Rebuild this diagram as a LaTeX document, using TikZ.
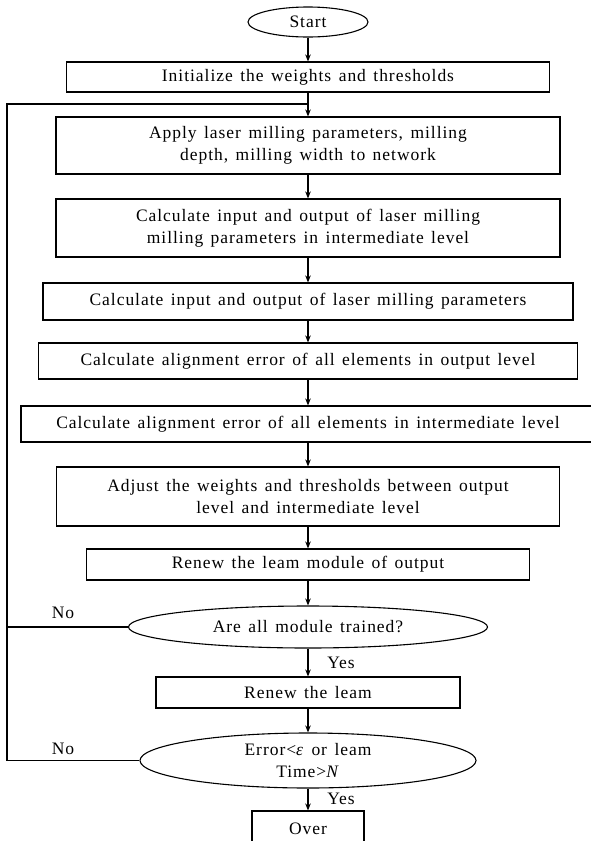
\documentclass[tikz,border=0pt]{standalone}
\usepackage{fontspec}
\setmainfont{Liberation Serif}[LetterSpace=5.5,WordSpace=1.4]
\usetikzlibrary{shapes.geometric,arrows.meta}

\begin{document}
\begin{tikzpicture}[x=1pt,y=-1pt,line width=1.1pt,
        box/.style={draw,rectangle,align=center,inner sep=0pt,font=\fontsize{17.5}{22}\selectfont},
        oval/.style={draw,ellipse,align=center,inner sep=0pt,font=\fontsize{17.5}{22}\selectfont},
        flow/.style={-{Stealth[length=7pt,width=5.5pt]}},
        lbl/.style={font=\fontsize{17.5}{22}\selectfont}]
    \useasboundingbox (0,0) rectangle (591,841);

    \node[oval,minimum width=120pt,minimum height=30pt] (start) at (308,22) {Start};
    \node[box,minimum width=483pt,minimum height=30pt] (init) at (308,77) {Initialize the weights and thresholds};
    \node[box,minimum width=504pt,minimum height=57pt] (apply) at (308,145.5) {Apply laser milling parameters, milling\\depth, milling width to network};
    \node[box,minimum width=504pt,minimum height=58pt] (calcmid) at (308,228) {Calculate input and output of laser milling\\milling parameters in intermediate level};
    \node[box,minimum width=530pt,minimum height=37pt] (calcpar) at (308,301.5) {Calculate input and output of laser milling parameters};
    \node[box,minimum width=539pt,minimum height=36pt] (errout) at (308,361) {Calculate alignment error of all elements in output level};
    \node[box,minimum width=574pt,minimum height=36pt] (errint) at (308,424) {Calculate alignment error of all elements in intermediate level};
    \node[box,minimum width=503pt,minimum height=59pt] (adjust) at (308,496.5) {Adjust the weights and thresholds between output\\level and intermediate level};
    \node[box,minimum width=443pt,minimum height=31pt] (renout) at (308,564.5) {Renew the leam module of output};
    \node[oval,minimum width=359pt,minimum height=42pt] (trained) at (308,627) {Are all module trained?};
    \node[box,minimum width=304pt,minimum height=31pt] (renew) at (308,692.5) {Renew the leam};
    \node[oval,minimum width=336pt,minimum height=55pt] (stop) at (308,760.5) {Error<\textit{ε} or leam\\Time>\textit{N}};
    \node[box,minimum width=112pt,minimum height=36pt] (over) at (308,829) {Over};

    \node[lbl] (no1) at (63,613) {No};
    \node[lbl] (no2) at (63,749) {No};
    \node[lbl] (yes1) at (341,663) {Yes};
    \node[lbl] (yes2) at (341,799) {Yes};

    \coordinate (loop) at (7,104);
    \coordinate (join) at (308,104);

    \draw[flow] (start.south) -- (init.north);
    \draw[flow] (init.south) -- (apply.north);
    \draw[flow] (apply.south) -- (calcmid.north);
    \draw[flow] (calcmid.south) -- (calcpar.north);
    \draw[flow] (calcpar.south) -- (errout.north);
    \draw[flow] (errout.south) -- (errint.north);
    \draw[flow] (errint.south) -- (adjust.north);
    \draw[flow] (adjust.south) -- (renout.north);
    \draw[flow] (renout.south) -- (trained.north);
    \draw[flow] (trained.south) -- (renew.north);
    \draw[flow] (renew.south) -- (stop.north);
    \draw[flow] (stop.south) -- (over.north);

    \draw (join) -- (loop) -- (loop |- stop.west) -- (stop.west);
    \draw (trained.west) -- (trained.west -| loop);
\end{tikzpicture}
\end{document}
